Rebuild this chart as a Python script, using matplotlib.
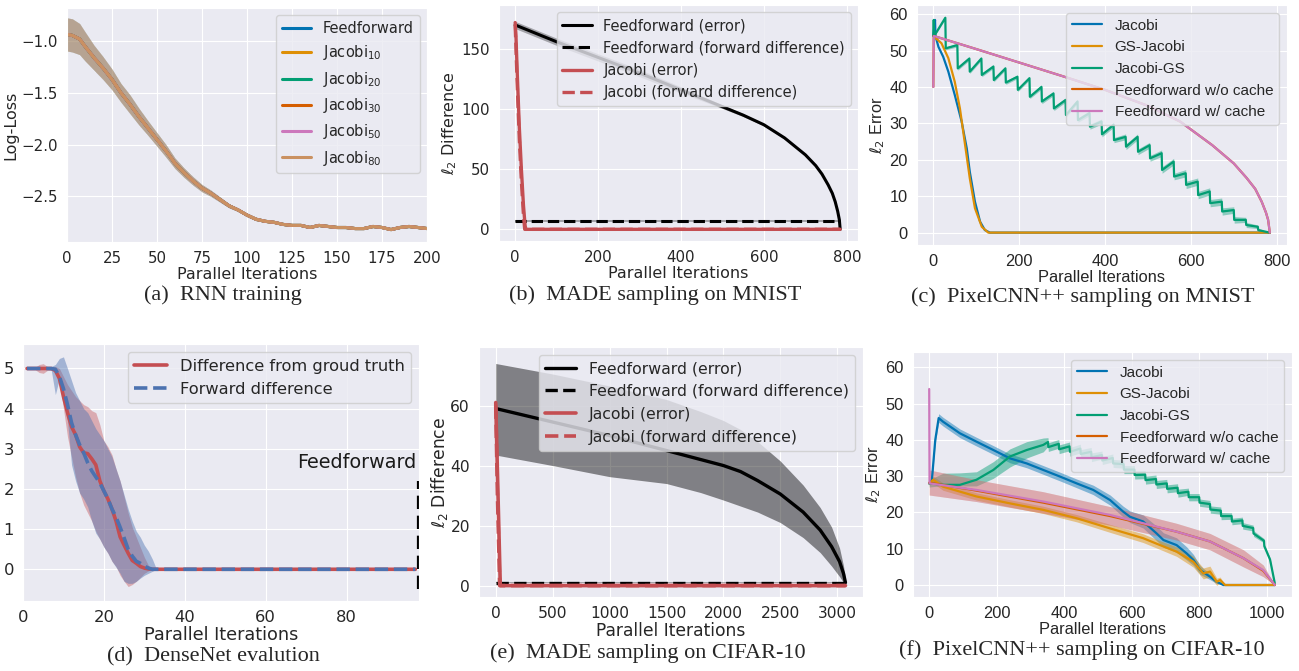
import numpy as np
import matplotlib.pyplot as plt
import seaborn as sns

# ---------------- data ----------------
# (a) RNN training: all six runs give the same curve
a_names = ['Feedforward', r'Jacobi$_{10}$', r'Jacobi$_{20}$', r'Jacobi$_{30}$',
           r'Jacobi$_{50}$', r'Jacobi$_{80}$']
a_x = [0, 3, 7, 10, 15, 20, 25, 30, 35, 40, 45, 50, 55, 60, 65, 70, 75, 80, 85, 90,
       95, 100, 105, 110, 115, 120, 125, 130, 135, 140, 145, 150, 155, 160, 165, 170,
       175, 180, 185, 190, 195, 200]
a_loss = [-0.935, -0.945, -0.98, -1.05, -1.16, -1.26, -1.37, -1.50, -1.61, -1.73, -1.84,
          -1.95, -2.06, -2.18, -2.27, -2.35, -2.42, -2.47, -2.53, -2.59, -2.63, -2.68,
          -2.72, -2.74, -2.75, -2.77, -2.78, -2.78, -2.80, -2.78, -2.79, -2.80, -2.80,
          -2.81, -2.81, -2.79, -2.80, -2.82, -2.80, -2.79, -2.80, -2.81]
a_sd = [0.16, 0.16, 0.15, 0.14, 0.12, 0.11, 0.10, 0.09, 0.09, 0.08, 0.07, 0.065, 0.06,
        0.05, 0.045, 0.04, 0.035, 0.03, 0.025, 0.02, 0.015, 0.015, 0.015, 0.01, 0.01,
        0.01, 0.01, 0.01, 0.01, 0.01, 0.01, 0.01, 0.01, 0.01, 0.01, 0.01, 0.01, 0.01,
        0.01, 0.01, 0.01, 0.01]

# (b) MADE on MNIST
b_ff_x = [0, 100, 200, 300, 400, 450, 500, 550, 600, 650, 700, 725, 740, 755, 765, 772,
          778, 782, 784]
b_ff_err = [170, 156, 143, 130, 116, 109, 102, 95, 87, 76, 62, 53, 46, 37, 30, 23, 15,
            8, 0]
b_ff_err_sd = [3, 3, 3, 3, 2.5, 2, 1.5, 1.2, 1, 1, 0.8, 0.8, 0.7, 0.6, 0.5, 0.4, 0.3,
               0.2, 0]
b_fd_x = [0, 784]
b_ff_fd = [6.8, 6.8]
b_ff_fd_sd = [0.8, 0.8]
b_jac_x = [0, 2, 5, 10, 15, 20, 24, 26, 784]
b_jac_err = [172, 160, 130, 85, 50, 20, 3, 0, 0]
b_jacfd_x = [0, 5, 10, 15, 20, 23, 784]
b_jac_fd = [170, 120, 75, 40, 12, 0, 0]

# (c) PixelCNN++ on MNIST
c_jac_x = [0, 4, 5, 12, 23, 35, 50, 66, 78, 85, 97, 109, 120, 132, 784]
c_jac = [54, 58.4, 54, 51, 48.3, 44.2, 37.8, 30.5, 23.1, 16.7, 8.5, 3, 0.7, 0, 0]
c_gsj_x = [0, 19, 35, 50, 62, 74, 85, 97, 113, 128, 784]
c_gsj = [54, 52, 47.9, 41.4, 34.1, 24.1, 14.9, 6.7, 1.6, 0, 0]
c_gs_start_x = [0, 1, 2]
c_gs_start = [54, 58.4, 54]
c_gs_peak_x = [28, 56, 84, 112, 140, 168, 196, 224, 252, 280, 308, 336, 364, 392, 420,
               448, 476, 504, 532, 560, 588, 616, 644, 672, 700, 728, 756]
c_gs_peak = [59, 51.5, 47.8, 47.8, 45.6, 45.1, 42.8, 42.4, 40, 38.2, 36.4, 36, 32.8, 30.5,
             29.6, 26.3, 26.3, 24, 21.8, 19.5, 16.3, 14, 11.3, 8.5, 6.2, 3.5, 1.6]
c_gs_trough = [50.6, 45.1, 44.2, 43.3, 41.9, 41.2, 39.2, 37.3, 36, 34.1, 32.3, 30.9, 29.1,
               27, 25.4, 23.6, 22.2, 20.4, 17.2, 15.4, 13.1, 10.3, 8.1, 5.8, 3.5, 2.1, 0.7]
c_gs_sd = [0.4, 0.5, 0.5, 0.5, 0.5, 0.5, 0.5, 0.5, 0.6, 0.6, 0.6, 0.6, 0.7, 0.7, 0.7, 0.8,
           0.8, 0.8, 0.9, 0.9, 1.0, 1.0, 1.0, 1.0, 0.9, 0.7, 0.5]
c_gs_end_x = [784]
c_gs_end = [0]
c_ff_x = [0, 1, 100, 200, 300, 400, 500, 575, 650, 700, 730, 750, 765, 775, 780, 784]
c_ff = [40, 54, 50.4, 46.7, 43, 39.2, 34.8, 30.5, 24, 19, 15, 12, 8.5, 5.5, 3.5, 0]

# (d) DenseNet evaluation
d_x = list(range(1, 34)) + [97]
d_err = [5, 5, 5, 5, 5, 5, 5, 4.95, 4.75, 4.3, 3.9, 3.55, 3.35, 3.05, 2.9, 2.88, 2.75, 2.6,
         2.2, 1.95, 1.75, 1.5, 1.2, 0.81, 0.6, 0.4, 0.22, 0.15, 0.07, 0.03, 0.01, 0, 0, 0]
d_err_lo = [4.97, 4.97, 4.97, 4.9, 4.88, 4.95, 4.97, 4.9, 4.7, 4.0, 3.3, 2.8, 2.3, 1.9, 1.6,
            1.4, 1.2, 0.95, 0.75, 0.56, 0.4, 0.2, 0.07, -0.15, -0.3, -0.43, -0.38, -0.3,
            -0.2, -0.1, -0.04, 0, 0, 0]
d_err_hi = [5.03, 5.03, 5.03, 5.1, 5.12, 5.05, 5.03, 5.05, 5.0, 4.8, 4.6, 4.45, 4.3, 4.2,
            4.1, 4.05, 3.95, 3.9, 3.6, 3.2, 3.05, 2.85, 2.5, 2.2, 1.8, 1.4, 1.05, 0.8, 0.55,
            0.3, 0.1, 0, 0, 0]
d_fd = [5, 5, 5, 5, 5, 5, 5, 4.98, 4.8, 4.5, 4.1, 3.65, 3.35, 3.1, 2.9, 2.65, 2.45, 2.3,
        2.15, 1.95, 1.75, 1.5, 1.3, 1.05, 0.78, 0.5, 0.33, 0.2, 0.15, 0.08, 0.03, 0, 0, 0]
d_fd_lo = [4.98, 4.98, 4.98, 4.98, 4.98, 4.98, 4.95, 4.35, 4.75, 4.2, 3.7, 2.6, 2.2, 1.9,
           1.75, 1.55, 1.2, 0.9, 0.75, 0.55, 0.4, 0.2, 0.05, -0.1, -0.3, -0.35, -0.35,
           -0.3, -0.22, -0.15, -0.1, -0.05, 0, 0]
d_fd_hi = [5.02, 5.02, 5.02, 5.02, 5.02, 5.02, 5.05, 5.1, 5.25, 5.29, 5.0, 4.7, 4.4, 4.2,
           4.0, 3.9, 3.7, 3.5, 3.35, 3.2, 3.0, 2.8, 2.5, 2.2, 1.85, 1.5, 1.2, 0.95, 0.8,
           0.6, 0.45, 0.25, 0, 0]
d_feedforward_x = 97.7
d_feedforward_y = [-0.5, 2.2]

# (e) MADE on CIFAR-10
e_ff_x = [0, 500, 1000, 1500, 1800, 2000, 2150, 2300, 2500, 2700, 2850, 2950, 3020,
          3055, 3072]
e_ff_err = [59, 54.5, 50, 45, 42, 40, 38, 35, 30.5, 24.5, 18.5, 13, 8, 4, 1]
e_ff_hi = [74, 70.5, 66.5, 62, 58, 55, 52, 48, 41.5, 33.5, 26, 19.5, 12.5, 6.5, 2]
e_ff_lo = [43.5, 40, 36.3, 34, 31, 28.5, 26.5, 24.5, 21, 16, 11, 6.5, 3, 1, 0]
e_fd_x = [0, 3072]
e_ff_fd = [1.0, 1.0]
e_ff_fd_sd = [0.3, 0.3]
e_jac_x = [0, 20, 40, 3072]
e_jac_err = [61, 30, 0, 0]
e_jacfd_x = [0, 15, 35, 3072]
e_jac_fd = [60, 30, 0, 0]

# (f) PixelCNN++ on CIFAR-10
f_jac_x = [0, 8, 18, 28, 41, 91, 140, 190, 239, 289, 338, 387, 437, 486, 536, 575, 595,
           634, 674, 694, 733, 763, 783, 803, 832, 852, 872, 1024]
f_jac = [28, 29, 40, 46, 45, 41.8, 39.5, 37.2, 34.9, 33.5, 31.7, 29.9, 28, 26.2, 23.4, 20.2,
         18.8, 17.5, 14.2, 12.4, 11, 8.7, 6.9, 4.1, 2.3, 0.9, 0, 0]
f_jac_sd = [0.3, 0.5, 1, 1.2, 1.2, 1.2, 1.2, 1.2, 1.2, 1.2, 1.2, 1.2, 1.2, 1.3, 1.4, 1.5,
            1.6, 1.8, 2, 2, 2, 1.8, 1.5, 1.2, 0.8, 0.5, 0, 0]
f_gsj_x = [0, 12, 41, 140, 239, 338, 437, 536, 634, 684, 733, 783, 812, 832, 852, 862, 877, 1024]
f_gsj = [28, 29, 27.1, 24.4, 22.5, 20.7, 18.4, 15.6, 12.9, 11, 9.2, 6.4, 3.2, 3.7, 0.9, 1.4, 0, 0]
f_gsj_sd = [0.5, 1, 1, 1, 1, 1, 1, 1.1, 1.2, 1.2, 1.3, 1.5, 1.5, 1.5, 1, 0.8, 0, 0]
f_gs_rise_x = [0, 41, 91, 140, 190, 239, 289, 338]
f_gs_rise = [28, 27.6, 27.6, 29, 31.7, 35.4, 37.2, 38.6]
f_gs_rise_lo = [27, 27.4, 27.3, 27.3, 29.4, 32.5, 35, 36.7]
f_gs_rise_hi = [29, 30.8, 30.9, 31.2, 34, 37.5, 39.5, 40.5]
f_gs_peak_x = [352, 384, 416, 448, 480, 512, 544, 576, 608, 640, 672, 704, 736, 768, 800,
               832, 864, 896, 928, 960, 992]
f_gs_peak = [39.4, 38.9, 38.2, 37.6, 36.7, 35.8, 35, 33.3, 31.8, 30.4, 29.2, 28, 26.8, 25.7,
             24.2, 22.3, 20.5, 19, 17.8, 15.7, 12.2]
f_gs_trough = [38, 37.4, 36.7, 36.1, 35.2, 34.3, 33.5, 31.8, 30.3, 28.9, 27.7, 26.5, 25.3,
               24.2, 22.7, 20.8, 19, 17.5, 16.3, 14.2, 10.7]
f_gs_tooth_sd = [1.2, 1.2, 1.2, 1.2, 1.2, 1.1, 1.1, 1.1, 1.1, 1.1, 1.1, 1.1, 1.1, 1.0, 1.0,
                 1.0, 1.0, 0.9, 0.9, 0.8, 0.6]
f_gs_end_x = [1010, 1024]
f_gs_end = [7, 0.5]
f_ffn_x = [0, 140, 338, 536, 733, 832, 931, 990, 1024]
f_ffn = [28.2, 26, 22.7, 19, 14.7, 12, 7.4, 3.9, 0]
f_ffn_hi = [31.7, 29, 25.7, 21.6, 17, 14.2, 9.7, 5.5, 0]
f_ffn_lo = [24.8, 23, 19.8, 16.5, 12.4, 9.7, 5, 2.3, 0]
f_ffc_x = [0, 1, 140, 338, 536, 733, 832, 931, 990, 1024]
f_ffc = [54, 28, 26.2, 23, 19.3, 14.7, 12, 7.4, 4.1, 0]

captions = ['(a)  RNN training', '(b)  MADE sampling on MNIST',
            '(c)  PixelCNN++ sampling on MNIST', '(d)  DenseNet evalution',
            '(e)  MADE sampling on CIFAR-10', '(f)  PixelCNN++ sampling on CIFAR-10']

# ---------------- style ----------------
sns.set_style("darkgrid")
plt.rcParams['font.family'] = ['DejaVu Sans']
plt.rcParams['mathtext.fontset'] = 'dejavusans'

CB = ['#0173b2', '#de8f05', '#029e73', '#d55e00', '#cc78bc', '#ca9161']
RED = '#c44e52'
BLUE = '#4c72b0'
ARIAL = 'Liberation Sans'

W, H = 1299, 671
fig = plt.figure(figsize=(W / 100, H / 100), dpi=100)


def place(left, top, right, bottom):
    return fig.add_axes([left / W, 1 - bottom / H, (right - left) / W, (bottom - top) / H])


def teeth(sx, sy, px, pk, tr, ex, ey):
    xs, ys = list(sx), list(sy)
    for x, p, t in zip(px, pk, tr):
        xs += [x, x + 1]
        ys += [p, t]
    return xs + list(ex), ys + list(ey)


def band(ax, x, y, sd, color, alpha):
    y, sd = np.asarray(y, float), np.asarray(sd, float)
    ax.fill_between(x, y - sd, y + sd, color=color, alpha=alpha, lw=0)


# ---------------- (a) ----------------
ax = place(67, 8, 427, 242)
for name, col in zip(a_names, CB):
    band(ax, a_x, a_loss, a_sd, col, 0.16)
    ax.plot(a_x, a_loss, color=col, lw=2.2, label=name)
ax.set_xlim(0, 200)
ax.set_ylim(-2.94, -0.68)
ax.set_xticks([0, 25, 50, 75, 100, 125, 150, 175, 200])
ax.set_yticks([-1.0, -1.5, -2.0, -2.5])
ax.tick_params(labelsize=10.8, pad=3)
ax.set_xlabel('Parallel Iterations', fontsize=11.5, labelpad=1)
ax.set_ylabel('Log-Loss', fontsize=11.5, labelpad=2)
ax.legend(loc='upper right', fontsize=10.5, borderaxespad=0.5)

# ---------------- (b) ----------------
ax = place(499, 5, 858, 241)
band(ax, b_ff_x, b_ff_err, b_ff_err_sd, 'k', 0.3)
ax.plot(b_ff_x, b_ff_err, color='k', lw=2.2, label='Feedforward (error)')
band(ax, b_fd_x, b_ff_fd, b_ff_fd_sd, 'k', 0.3)
ax.plot(b_fd_x, b_ff_fd, color='k', lw=2.2, ls='--', label='Feedforward (forward difference)')
ax.plot(b_jac_x, b_jac_err, color=RED, lw=2.4, label='Jacobi (error)')
ax.plot(b_jacfd_x, b_jac_fd, color=RED, lw=2.4, ls='--', label='Jacobi (forward difference)')
ax.set_xlim(-39, 827)
ax.set_ylim(-9.7, 186.6)
ax.set_xticks([0, 200, 400, 600, 800])
ax.set_yticks([0, 50, 100, 150])
ax.tick_params(labelsize=10.8, pad=3)
ax.set_xlabel('Parallel Iterations', fontsize=11.5, labelpad=1)
ax.set_ylabel(r'$\ell_2$ Difference', fontsize=11.5, labelpad=2)
ax.legend(loc='upper right', fontsize=10.5, borderaxespad=0.5)

# ---------------- (c) ----------------
ax = place(917, 5, 1287, 245)
ax.plot(c_jac_x, c_jac, color=CB[0], lw=1.6, label='Jacobi')
ax.plot(c_gsj_x, c_gsj, color=CB[1], lw=1.6, label='GS-Jacobi')
gx, gy = teeth(c_gs_start_x, c_gs_start, c_gs_peak_x, c_gs_peak, c_gs_trough,
               c_gs_end_x, c_gs_end)
gsd = [0.2] * len(c_gs_start_x)
for s in c_gs_sd:
    gsd += [s, s]
gsd += [0.0]
band(ax, gx, gy, gsd, CB[2], 0.4)
ax.plot(gx, gy, color=CB[2], lw=1.6, label='Jacobi-GS')
ax.plot(c_ff_x, c_ff, color=CB[3], lw=1.6, label='Feedforward w/o cache')
ax.plot(c_ff_x, c_ff, color=CB[4], lw=1.6, label='Feedforward w/ cache')
ax.set_xlim(-38, 824)
ax.set_ylim(-3.4, 62.5)
ax.set_xticks([0, 200, 400, 600, 800])
ax.set_yticks([0, 10, 20, 30, 40, 50, 60])
ax.tick_params(labelsize=11.8, pad=3, labelfontfamily=ARIAL)
ax.set_xlabel('Parallel Iterations', fontsize=11.8, family=ARIAL, labelpad=1)
ax.set_ylabel(r'$\ell_2$ Error', fontsize=11.8, family=ARIAL, labelpad=2)
ax.legend(loc='upper right', prop={'family': ARIAL, 'size': 11}, borderaxespad=0.5)

# ---------------- (d) ----------------
ax = place(23, 344, 419, 601)
ax.fill_between(d_x, d_err_lo, d_err_hi, color=RED, alpha=0.4, lw=0)
ax.fill_between(d_x, d_fd_lo, d_fd_hi, color=BLUE, alpha=0.45, lw=0)
ax.plot(d_x, d_err, color=RED, lw=2.6, label='Difference from groud truth')
ax.plot(d_x, d_fd, color=BLUE, lw=2.6, ls='--', label='Forward difference')
ax.plot([d_feedforward_x] * 2, d_feedforward_y, color='k', lw=1.6, ls=(0, (6, 3)))
ax.text(97.3, 2.65, 'Feedforward', ha='right', va='center', fontsize=13.8, color='0.1')
ax.set_xlim(0, 97.9)
ax.set_ylim(-0.79, 5.61)
ax.set_xticks([0, 20, 40, 60, 80])
ax.set_yticks([0, 1, 2, 3, 4, 5])
ax.tick_params(labelsize=11.8, pad=3)
ax.set_xlabel('Parallel Iterations', fontsize=12.7, labelpad=1)
ax.legend(loc='upper right', fontsize=11.7, borderaxespad=0.5)

# ---------------- (e) ----------------
ax = place(479, 347, 863, 597)
ax.fill_between(e_ff_x, e_ff_lo, e_ff_hi, color='k', alpha=0.45, lw=0)
ax.plot(e_ff_x, e_ff_err, color='k', lw=2.4, label='Feedforward (error)')
band(ax, e_fd_x, e_ff_fd, e_ff_fd_sd, 'k', 0.3)
ax.plot(e_fd_x, e_ff_fd, color='k', lw=2.4, ls='--', label='Feedforward (forward difference)')
ax.plot(e_jac_x, e_jac_err, color=RED, lw=2.6, label='Jacobi (error)')
ax.plot(e_jacfd_x, e_jac_fd, color=RED, lw=2.6, ls='--', label='Jacobi (forward difference)')
ax.set_xlim(-147, 3226)
ax.set_ylim(-3.8, 79.5)
ax.set_xticks([0, 500, 1000, 1500, 2000, 2500, 3000])
ax.set_yticks([0, 20, 40, 60])
ax.tick_params(labelsize=11.2, pad=3)
ax.set_xlabel('Parallel Iterations', fontsize=12.3, labelpad=1)
ax.set_ylabel(r'$\ell_2$ Difference', fontsize=12.3, labelpad=0)
ax.legend(loc='upper right', fontsize=11.3, borderaxespad=0.5)

# ---------------- (f) ----------------
ax = place(913, 352, 1292, 597)
band(ax, f_jac_x, f_jac, f_jac_sd, CB[0], 0.45)
ax.plot(f_jac_x, f_jac, color=CB[0], lw=1.6, label='Jacobi')
band(ax, f_gsj_x, f_gsj, f_gsj_sd, CB[1], 0.45)
ax.plot(f_gsj_x, f_gsj, color=CB[1], lw=1.6, label='GS-Jacobi')
gx, gy = teeth(f_gs_rise_x, f_gs_rise, f_gs_peak_x, f_gs_peak, f_gs_trough,
               f_gs_end_x, f_gs_end)
glo = list(f_gs_rise_lo)
ghi = list(f_gs_rise_hi)
for p, t, s in zip(f_gs_peak, f_gs_trough, f_gs_tooth_sd):
    glo += [p - s, t - s]
    ghi += [p + s, t + s]
glo += [f_gs_end[0] - 0.5, f_gs_end[1]]
ghi += [f_gs_end[0] + 0.5, f_gs_end[1]]
ax.fill_between(gx, glo, ghi, color=CB[2], alpha=0.45, lw=0)
ax.plot(gx, gy, color=CB[2], lw=1.6, label='Jacobi-GS')
ax.fill_between(f_ffn_x, f_ffn_lo, f_ffn_hi, color=CB[3], alpha=0.3, lw=0)
ax.fill_between(f_ffn_x, f_ffn_lo, f_ffn_hi, color=CB[4], alpha=0.3, lw=0)
ax.plot(f_ffn_x, f_ffn, color=CB[3], lw=1.6, label='Feedforward w/o cache')
ax.plot(f_ffc_x, f_ffc, color=CB[4], lw=1.6, label='Feedforward w/ cache')
ax.set_xlim(-48, 1075)
ax.set_ylim(-3.3, 64.2)
ax.set_xticks([0, 200, 400, 600, 800, 1000])
ax.set_yticks([0, 10, 20, 30, 40, 50, 60])
ax.tick_params(labelsize=11.8, pad=3, labelfontfamily=ARIAL)
ax.set_xlabel('Parallel Iterations', fontsize=11.8, family=ARIAL, labelpad=1)
ax.set_ylabel(r'$\ell_2$ Error', fontsize=11.8, family=ARIAL, labelpad=2)
ax.legend(loc='upper right', prop={'family': ARIAL, 'size': 11}, borderaxespad=0.5)

# ---------------- captions ----------------
cap_pos = [(223, 295), (655, 295), (1083, 297), (213, 657), (648, 653), (1082, 650)]
for text, (cx, cy) in zip(captions, cap_pos):
    fig.text(cx / W, 1 - cy / H, text, ha='center', va='center',
             family='Liberation Serif', fontsize=16)

fig.savefig('out.png', dpi=100)
